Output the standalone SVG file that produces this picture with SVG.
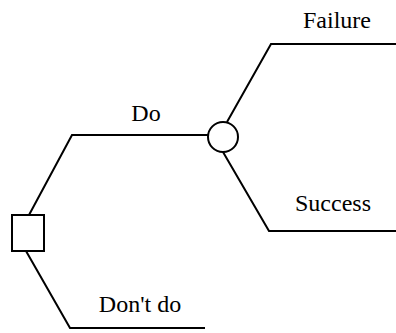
<svg xmlns="http://www.w3.org/2000/svg" width="396" height="333" viewBox="0 0 396 333">
<style>
.ln{fill:none;stroke:#000;stroke-width:2;stroke-linejoin:miter}
.nd{fill:#fff;stroke:#000;stroke-width:2}
.lb{font-family:"Liberation Serif","Times New Roman",serif;font-size:24px;fill:#000;text-anchor:middle}
</style>
<rect width="396" height="333" fill="#fff"/>
<g id="connectors">
<polyline class="ln" points="29,215 72,135 208,135"/>
<polyline class="ln" points="26,251 70,328 205,328"/>
<polyline class="ln" points="227,122 271,44 396,44"/>
<polyline class="ln" points="223,152 269,231 396,231"/>
</g>
<g id="decision"><rect class="nd" x="12" y="215" width="32" height="36"/></g>
<g id="chance"><circle class="nd" cx="223" cy="137" r="15"/></g>
<g id="label-do"><text class="lb" x="146" y="121">Do</text></g>
<g id="label-dont"><text class="lb" x="140" y="312">Don't do</text></g>
<g id="label-failure"><text class="lb" x="337" y="28">Failure</text></g>
<g id="label-success"><text class="lb" x="333" y="211">Success</text></g>
</svg>
